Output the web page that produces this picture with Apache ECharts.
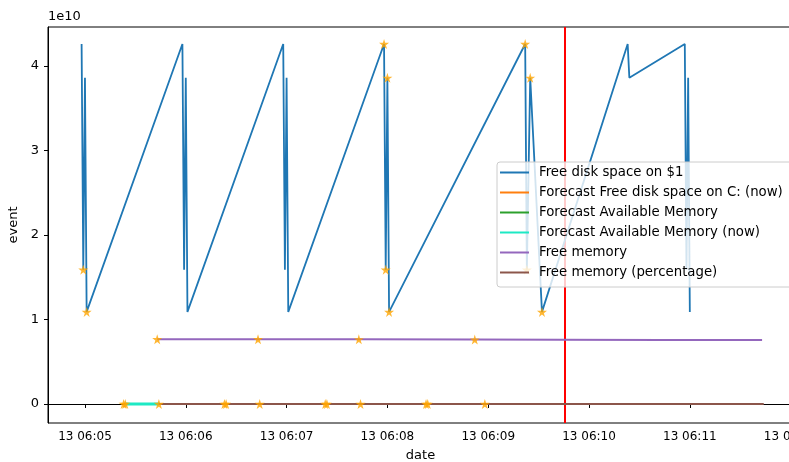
<!DOCTYPE html>
<html>
<head>
<meta charset="utf-8">
<script src="https://cdn.jsdelivr.net/npm/echarts@6/dist/echarts.min.js"></script>
<style>
  html, body { margin: 0; padding: 0; background: #fff; }
  #main { width: 789px; height: 462px; }
</style>
</head>
<body>
<div id="main"></div>
<script>
// time helper: 'HH:MM:SS' on the 13th -> ms
function t(s) {
    var p = s.split(':').map(Number);
    return Date.UTC(2023, 0, 13, p[0], p[1], 0) + p[2] * 1000;
}
function pad(n) { return (n < 10 ? '0' : '') + n; }

// free disk space (bytes)
var diskTimes = ['06:04:58', '06:04:59', '06:05:00', '06:05:01',
                 '06:05:58', '06:05:59', '06:06:00', '06:06:01',
                 '06:06:58', '06:06:59', '06:07:00', '06:07:01',
                 '06:07:58', '06:07:59', '06:08:00', '06:08:01',
                 '06:09:22', '06:09:23', '06:09:25', '06:09:32',
                 '06:10:23', '06:10:24', '06:10:57', '06:10:58', '06:10:59', '06:11:00'];
var diskValues = [4.26e10, 1.59e10, 3.86e10, 1.09e10,
                  4.26e10, 1.59e10, 3.86e10, 1.09e10,
                  4.26e10, 1.59e10, 3.86e10, 1.09e10,
                  4.26e10, 1.59e10, 3.86e10, 1.09e10,
                  4.26e10, 1.59e10, 3.86e10, 1.09e10,
                  4.26e10, 3.86e10, 4.26e10, 1.59e10, 3.86e10, 1.09e10];

// forecast series (hidden under the others, near zero)
var fcDiskTimes = ['06:05:24', '06:06:24', '06:07:24', '06:08:24'];
var fcDiskValues = [0, 0, 0, 0];
var fcMemTimes = ['06:05:23', '06:06:23', '06:07:23', '06:08:23'];
var fcMemValues = [0, 0, 0, 0];
var fcMemNowTimes = ['06:05:24', '06:05:44'];
var fcMemNowValues = [0, 0];

// free memory (bytes)
var memTimes = ['06:05:43', '06:06:43', '06:07:43', '06:08:52', '06:09:43', '06:10:43', '06:11:43'];
var memValues = [7.66e9, 7.66e9, 7.65e9, 7.62e9, 7.60e9, 7.58e9, 7.57e9];

// free memory (percentage)
var pctTimes = ['06:05:44', '06:06:44', '06:07:44', '06:08:58', '06:09:44', '06:10:44', '06:11:44'];
var pctValues = [45.2, 45.1, 45.1, 44.9, 44.8, 44.7, 44.6];

// anomaly markers
var starTimes = ['06:04:59', '06:05:01', '06:07:58', '06:07:59', '06:08:00', '06:08:01',
                 '06:09:22', '06:09:23', '06:09:25', '06:09:32',
                 '06:05:43', '06:06:43', '06:07:43', '06:08:52',
                 '06:05:23', '06:05:24', '06:05:44', '06:06:23', '06:06:24', '06:06:44',
                 '06:07:23', '06:07:24', '06:07:44', '06:08:23', '06:08:24', '06:08:58'];
var starValues = [1.59e10, 1.09e10, 4.26e10, 1.59e10, 3.86e10, 1.09e10,
                  4.26e10, 1.59e10, 3.86e10, 1.09e10,
                  7.66e9, 7.66e9, 7.65e9, 7.62e9,
                  0, 0, 45.2, 0, 0, 45.1,
                  0, 0, 45.1, 0, 0, 44.9];

var nowTime = '06:09:45.6';
var xTicks = ['06:05:00', '06:06:00', '06:07:00', '06:08:00', '06:09:00', '06:10:00', '06:11:00', '06:12:00'];
var yTicks = [0, 1e10, 2e10, 3e10, 4e10];

function pairs(ts, vs) {
    return ts.map(function (s, i) { return [t(s), vs[i]]; });
}

var starPath = 'path://M50,0 L61,35 L98,35 L68,57 L79,91 L50,70 L21,91 L32,57 L2,35 L39,35 Z';
var font = 'DejaVu Sans';

var myChart = echarts.init(document.getElementById('main'));

var lineSeries = function (name, ts, vs, color, width) {
    return {
        name: name,
        type: 'line',
        data: pairs(ts, vs),
        showSymbol: false,
        symbol: 'none',
        lineStyle: { color: color, width: width },
        itemStyle: { color: color },
        animation: false
    };
};

var series = [
    lineSeries('Free disk space on $1', diskTimes, diskValues, '#1f77b4', 1.8),
    lineSeries('Forecast Free disk space on C: (now)', fcDiskTimes, fcDiskValues, '#ff7f0e', 1.8),
    lineSeries('Forecast Available Memory', fcMemTimes, fcMemValues, '#2ca02c', 1.8),
    lineSeries('Forecast Available Memory (now)', fcMemNowTimes, fcMemNowValues, '#1de9c4', 3),
    lineSeries('Free memory', memTimes, memValues, '#9467bd', 2),
    lineSeries('Free memory (percentage)', pctTimes, pctValues, '#8c564b', 2),
    {
        name: 'anomalies',
        type: 'scatter',
        data: pairs(starTimes, starValues),
        symbol: starPath,
        symbolSize: 10,
        itemStyle: { color: '#ffa500' },
        animation: false,
        z: 3
    }
];
series[5].markLine = {
    silent: true,
    symbol: ['none', 'none'],
    label: { show: false },
    lineStyle: { color: '#ff0000', width: 2, type: 'solid' },
    data: [{ xAxis: t(nowTime) }],
    z: 3,
    animation: false
};

var option = {
    animation: false,
    textStyle: { fontFamily: font },
    grid: {
        left: 48, top: 27, width: 745, height: 396,
        show: true, borderColor: '#000', borderWidth: 1,
        containLabel: false, outerBoundsMode: 'none'
    },
    legend: {
        data: series.slice(0, 6).map(function (s) { return s.name; }),
        orient: 'vertical',
        left: 497, top: 162,
        icon: 'rect',
        itemWidth: 29, itemHeight: 2,
        itemGap: 7,
        padding: [4, 16, 8, 3],
        backgroundColor: 'rgba(255,255,255,0.8)',
        borderColor: '#cccccc', borderWidth: 1, borderRadius: 3,
        textStyle: { fontFamily: font, fontSize: 13.3, color: '#000', padding: [0, 0, 0, 5] },
        selectedMode: false
    },
    graphic: [{
        type: 'text', left: 48, top: 10,
        style: { text: '1e10', font: '13px "DejaVu Sans"', fill: '#000' }
    }],
    xAxis: {
        type: 'value',
        min: t('06:04:38'), max: t('06:12:01.4'),
        name: 'date', nameLocation: 'middle', nameGap: 26,
        nameTextStyle: { fontFamily: font, fontSize: 13, color: '#000' },
        axisLine: { lineStyle: { color: '#000', width: 1 } },
        axisTick: { show: true, length: 4, lineStyle: { color: '#000' }, customValues: xTicks.map(t) },
        axisLabel: {
            customValues: xTicks.map(t),
            margin: 8,
            fontFamily: font, fontSize: 12, color: '#000',
            formatter: function (v) {
                var d = new Date(v);
                return d.getUTCDate() + ' ' + pad(d.getUTCHours()) + ':' + pad(d.getUTCMinutes());
            }
        },
        splitLine: { show: false }
    },
    yAxis: {
        type: 'value',
        min: -0.2249e10, max: 4.4615e10,
        name: 'event', nameLocation: 'middle', nameGap: 25, nameRotate: 90,
        nameTextStyle: { fontFamily: font, fontSize: 13, color: '#000' },
        axisLine: { show: true, lineStyle: { color: '#000', width: 1 } },
        axisTick: { show: true, length: 4, lineStyle: { color: '#000' }, customValues: yTicks },
        axisLabel: {
            customValues: yTicks,
            margin: 9,
            fontFamily: font, fontSize: 13, color: '#000',
            formatter: function (v) { return String(Math.round(v / 1e10)); }
        },
        splitLine: { show: false }
    },
    series: series
};

myChart.setOption(option);
</script>
</body>
</html>
